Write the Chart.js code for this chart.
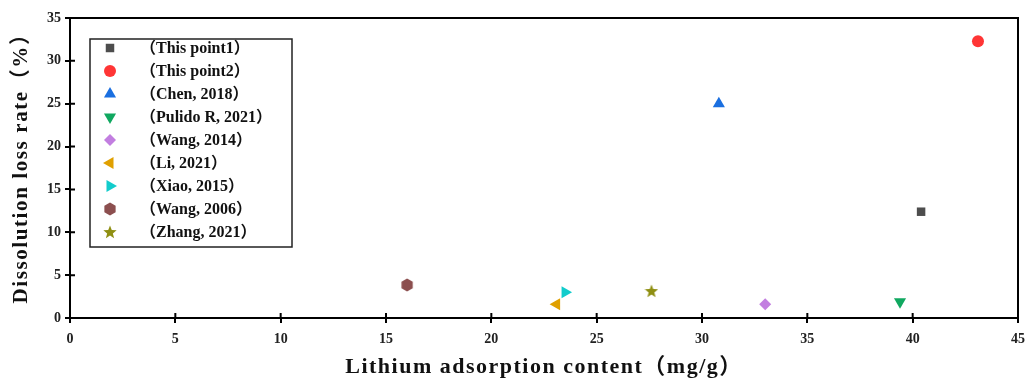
<!DOCTYPE html>
<html>
<head>
<meta charset="utf-8">
<script src="https://cdn.jsdelivr.net/npm/chart.js@4/dist/chart.umd.min.js"></script>
<style>
  html, body { margin: 0; padding: 0; background: #fff; }
  #wrap { width: 1026px; height: 380px; }
</style>
</head>
<body>
<div id="wrap"><canvas id="myChart"></canvas></div>
<script>
'use strict';
// 系列名
const seriesNames = [
  '（This point1）',
  '（This point2）',
  '（Chen, 2018）',
  '（Pulido R, 2021）',
  '（Wang, 2014）',
  '（Li, 2021）',
  '（Xiao, 2015）',
  '（Wang, 2006）',
  '（Zhang, 2021）'
];
// 横軸の値 (mg/g)
const xValues = [40.4, 43.1, 30.8, 39.4, 33.0, 23.1, 23.5, 16.0, 27.6];
// 縦軸の値 (%)
const yValues = [12.4, 32.3, 25.0, 1.9, 1.6, 1.6, 3.0, 3.85, 3.15];
const xTicks = [0, 5, 10, 15, 20, 25, 30, 35, 40, 45];
const yTicks = [0, 5, 10, 15, 20, 25, 30, 35];
const xTitle = 'Lithium adsorption content（mg/g）';
const yTitle = 'Dissolution loss rate（%）';

const colors = ['#4d4d4d', '#ff3535', '#1a6fe0', '#10a860', '#c27ee0', '#e0a000', '#12cccc', '#8c4f4f', '#8f8f12'];

// 星と六角形のマーカーを作る
function makeShape(kind, color) {
  const c = document.createElement('canvas');
  c.width = 14; c.height = 14;
  const g = c.getContext('2d');
  g.fillStyle = color;
  g.beginPath();
  if (kind === 'star') {
    for (let i = 0; i < 10; i++) {
      const r = i % 2 === 0 ? 7 : 3;
      const a = -Math.PI / 2 + i * Math.PI / 5;
      g.lineTo(7 + r * Math.cos(a), 7.5 + r * Math.sin(a));
    }
  } else {
    for (let i = 0; i < 6; i++) {
      const a = -Math.PI / 2 + i * Math.PI / 3;
      g.lineTo(7 + 6.5 * Math.cos(a), 7 + 6.5 * Math.sin(a));
    }
  }
  g.closePath();
  g.fill();
  return c;
}

const styles = ['rect', 'circle', 'triangle', 'triangle', 'rectRot', 'triangle', 'triangle', makeShape('hex', colors[7]), makeShape('star', colors[8])];
const rotations = [0, 0, 0, 180, 0, -90, 90, 0, 0];
const radii = [6, 6, 7, 7, 6, 7, 7, 6, 6];

const datasets = seriesNames.map((name, i) => ({
  label: name,
  data: [{ x: xValues[i], y: yValues[i] }],
  pointStyle: styles[i],
  rotation: rotations[i],
  pointRadius: radii[i],
  pointHoverRadius: radii[i],
  backgroundColor: colors[i],
  borderColor: colors[i],
  borderWidth: 0
}));

const serif = '"Liberation Serif", "Times New Roman", "Noto Sans CJK SC", serif';

// 枠線・内側の目盛り・凡例・軸タイトル
const framePlugin = {
  id: 'frame',
  afterDraw(chart) {
    const ctx = chart.ctx;
    const a = chart.chartArea;
    ctx.save();
    ctx.strokeStyle = '#000';
    ctx.lineWidth = 2;
    ctx.strokeRect(a.left, a.top, a.right - a.left, a.bottom - a.top);
    ctx.beginPath();
    chart.scales.x.ticks.forEach(t => {
      const px = chart.scales.x.getPixelForValue(t.value);
      ctx.moveTo(px, a.bottom); ctx.lineTo(px, a.bottom - 5);
    });
    chart.scales.y.ticks.forEach(t => {
      const py = chart.scales.y.getPixelForValue(t.value);
      ctx.moveTo(a.left, py); ctx.lineTo(a.left + 5, py);
    });
    ctx.stroke();

    // 凡例
    ctx.lineWidth = 1.5;
    ctx.strokeStyle = '#222';
    ctx.strokeRect(90, 39, 202, 208);
    ctx.font = 'bold 16px ' + serif;
    ctx.textBaseline = 'middle';
    ctx.textAlign = 'left';
    chart.data.datasets.forEach((ds, i) => {
      const y = 48 + i * 23;
      ctx.fillStyle = ds.backgroundColor;
      Chart.helpers.drawPoint(ctx, {
        pointStyle: ds.pointStyle,
        rotation: ds.rotation,
        radius: ds.pointRadius,
        borderWidth: 0
      }, 110, y);
      ctx.fillStyle = '#111';
      ctx.fillText(ds.label, 140, y + 1);
    });

    // 軸タイトル
    ctx.fillStyle = '#111';
    ctx.textAlign = 'center';
    ctx.textBaseline = 'middle';
    ctx.letterSpacing = '1.5px';
    ctx.font = 'bold 22px ' + serif;
    ctx.fillText(xTitle, (a.left + a.right) / 2, 367);
    ctx.translate(22, 163);
    ctx.rotate(-Math.PI / 2);
    ctx.letterSpacing = '1.6px';
    ctx.font = 'bold 21px ' + serif;
    ctx.fillText(yTitle, 0, 0);
    ctx.restore();
  }
};

const config = {
  type: 'scatter',
  data: { datasets: datasets },
  options: {
    responsive: true,
    maintainAspectRatio: false,
    animation: false,
    layout: { padding: { left: 8, right: 8, top: 18, bottom: 0 } },
    plugins: {
      legend: { display: false },
      tooltip: { enabled: false }
    },
    scales: {
      x: {
        type: 'linear',
        min: 0, max: 45,
        afterBuildTicks: s => { s.ticks = xTicks.map(v => ({ value: v })); },
        afterFit: s => { s.height = 62; s.paddingLeft = 0; s.paddingRight = 0; },
        grid: { drawOnChartArea: false, tickLength: 5, color: '#000', lineWidth: 2 },
        border: { color: '#000', width: 2 },
        ticks: { color: '#222', font: { family: serif, size: 14, weight: 'bold' }, padding: 8, maxRotation: 0 }
      },
      y: {
        type: 'linear',
        min: 0, max: 35,
        afterBuildTicks: s => { s.ticks = yTicks.map(v => ({ value: v })); },
        afterFit: s => { s.width = 62; s.paddingTop = 0; s.paddingBottom = 0; },
        grid: { drawOnChartArea: false, tickLength: 5, color: '#000', lineWidth: 2 },
        border: { color: '#000', width: 2 },
        ticks: { color: '#222', font: { family: serif, size: 14, weight: 'bold' }, padding: 4 }
      }
    }
  },
  plugins: [framePlugin]
};

const myChart = new Chart(document.getElementById('myChart'), config);
</script>
</body>
</html>
